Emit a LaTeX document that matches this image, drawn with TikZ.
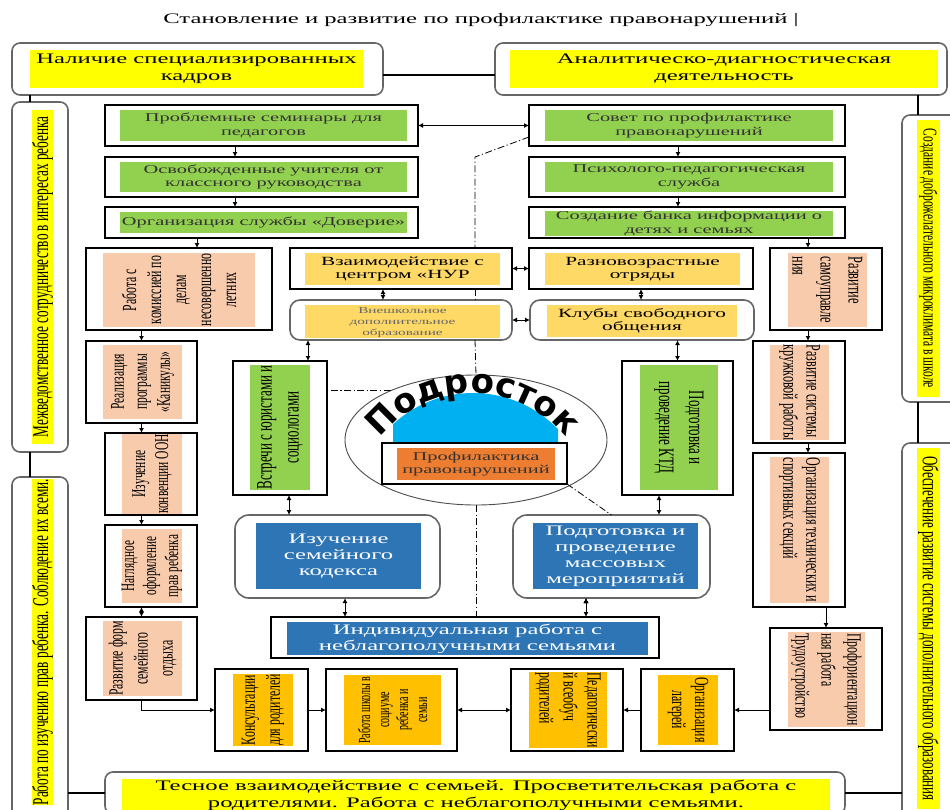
\documentclass[tikz,border=0pt]{standalone}
\usepackage{fontspec}
\setmainfont{Liberation Serif}[FakeStretch=1.7]
\newfontfamily\rotfont{Liberation Serif}[FakeStretch=0.59]
\newfontfamily\podfont{DejaVu Sans}
\usetikzlibrary{shapes.geometric,arrows.meta,decorations.text}

\definecolor{cYel}{HTML}{FFFF00}
\definecolor{cGrn}{HTML}{92D050}
\definecolor{cSand}{HTML}{FFD966}
\definecolor{cPeach}{HTML}{F8CBAD}
\definecolor{cAmber}{HTML}{FFC000}
\definecolor{cRust}{HTML}{ED7D31}
\definecolor{cBlue}{HTML}{2E75B6}
\definecolor{cSky}{HTML}{00B0F0}

\begin{document}
\begin{tikzpicture}
		[x=1pt, y=-1pt,
		bx/.style ={rectangle, draw=black, line width=1.1pt, fill=white, inner sep=0pt, outer sep=0pt},
		rbx/.style ={bx, draw=black!60, line width=1.6pt, rounded corners=8pt},
		pad/.style ={rectangle, inner sep=0pt, outer sep=0pt, align=center},
		hdr/.style ={pad, fill=cYel, font=\fontsize{14.5}{17}\selectfont},
		grn/.style ={pad, fill=cGrn, text=black!80, font=\fontsize{12}{13.5}\selectfont},
		snd/.style ={pad, fill=cSand, font=\fontsize{12.5}{13.5}\selectfont},
		blu/.style ={pad, fill=cBlue, text=white, font=\fontsize{14.5}{16}\selectfont},
		vtx/.style ={pad, font=\rotfont\fontsize{20}{25}\selectfont},
		vup/.style ={vtx, rotate=90},
		vdn/.style ={vtx, rotate=-90},
		arr/.style ={draw, line width=1pt, -{Latex[length=5pt,width=5pt]}},
		darr/.style ={draw, line width=1pt, {Latex[length=5pt,width=5pt]}-{Latex[length=5pt,width=5pt]}},
		dd/.style ={draw, line width=0.8pt, dash pattern=on 7pt off 2.5pt on 1.2pt off 2.5pt},
		]
		\useasboundingbox (0,0) rectangle (950,809);
		\clip (0,0) rectangle (950,809);

		% title and headers
		\draw (481,20) node[font=\fontsize{14.5}{17}\selectfont] (ttl) {Становление и развитие по профилактике правонарушений |};
		\draw (197.5,69) node[rbx, minimum width=371, minimum height=52] (hL) {};
		\draw (196.5,69) node[hdr, minimum width=333, minimum height=38] (hLT) {Наличие специализированных\\кадров};
		\draw (721,69) node[rbx, minimum width=452, minimum height=52] (hR) {};
		\draw (724,69) node[hdr, minimum width=428, minimum height=38] (hRT) {Аналитическо-диагностическая\\деятельность};

		% outer columns
		\draw (40,277) node[rbx, minimum width=56, minimum height=350] (oL1) {};
		\draw (42.5,277) node[vup, fill=cYel, minimum width=334, minimum height=21, font=\rotfont\fontsize{22.5}{24}\selectfont] (oL1T) {Межведомственное сотрудничество в интересах ребенка};
		\draw (40,658.5) node[rbx, minimum width=56, minimum height=363] (oL2) {};
		\draw (42.5,642) node[vup, fill=cYel, minimum width=316, minimum height=21, font=\rotfont\fontsize{22.5}{24}\selectfont] (oL2T) {Работа по изучению прав ребенка. Соблюдение их всеми.};
		\draw (930,258.5) node[rbx, minimum width=56, minimum height=287] (oR1) {};
		\draw (928.5,258.5) node[vdn, fill=cYel, minimum width=277, minimum height=23, font=\rotfont\fontsize{19.5}{24}\selectfont] (oR1T) {Создание доброжелательного микроклимата в школе};
		\draw (930,641.5) node[rbx, minimum width=56, minimum height=397] (oR2) {};
		\draw (928.5,628.5) node[vdn, fill=cYel, minimum width=361, minimum height=23, font=\rotfont\fontsize{22}{24}\selectfont] (oR2T) {Обеспечение развитие системы дополнительного образования};
		\draw (475,793) node[rbx, minimum width=740, minimum height=42] (bot) {};
		\draw (476,795.5) node[hdr, minimum width=708, minimum height=33] (botT) {Тесное взаимодействие с семьей. Просветительская работа с\\родителями. Работа с неблагополучными семьями.};

		% green blocks
		\draw (261.5,125.5) node[bx, minimum width=313, minimum height=41] (sem) {};
		\draw (263.5,125.5) node[grn, minimum width=287, minimum height=31] (semT) {Проблемные семинары для\\педагогов};
		\draw (261.5,177) node[bx, minimum width=313, minimum height=40] (osv) {};
		\draw (263.5,177) node[grn, minimum width=287, minimum height=30] (osvT) {Освобожденные учителя от\\классного руководства};
		\draw (261.5,222.5) node[bx, minimum width=313, minimum height=31] (dov) {};
		\draw (263.5,222.5) node[grn, minimum width=287, minimum height=21] (dovT) {Организация службы «Доверие»};
		\draw (687,125.5) node[bx, minimum width=316, minimum height=41] (sov) {};
		\draw (689,125.5) node[grn, minimum width=288, minimum height=31] (sovT) {Совет по профилактике\\правонарушений};
		\draw (687,177) node[bx, minimum width=316, minimum height=40] (psi) {};
		\draw (689,177) node[grn, minimum width=288, minimum height=30] (psiT) {Психолого-педагогическая\\служба};
		\draw (687,222.5) node[bx, minimum width=316, minimum height=31] (bank) {};
		\begin{scope}
		\clip (529,207) rectangle (845,237);
		\draw (689,223.5) node[grn, minimum width=288, minimum height=21] (bankT) {Создание банка информации о\\детях и семьях};
		\end{scope}

		% middle blocks
		\draw (401,268.5) node[bx, minimum width=222, minimum height=41] (vz) {};
		\draw (402.5,269) node[snd, minimum width=195, minimum height=32] (vzT) {Взаимодействие с\\центром «НУР};
		\draw (641,268.5) node[bx, minimum width=224, minimum height=41] (raz) {};
		\draw (642.5,269) node[snd, minimum width=195, minimum height=32] (razT) {Разновозрастные\\отряды};
		\draw (401,320) node[rbx, rounded corners=10pt, minimum width=222, minimum height=40] (vn) {};
		\begin{scope}
		\clip (305,305) rectangle (500,337);
		\draw (402.5,323) node[snd, text=black!60, font=\fontsize{9}{11}\selectfont, minimum width=195, minimum height=36] (vnT) {Внешкольное\\дополнительное\\образование};
		\end{scope}
		\draw (642,320) node[rbx, rounded corners=10pt, minimum width=224, minimum height=40] (klub) {};
		\draw (642,321) node[snd, minimum width=190, minimum height=32] (klubT) {Клубы свободного\\общения};
		\draw (280,428) node[bx, minimum width=94, minimum height=134] (vst) {};
		\draw (280,427.5) node[vup, fill=cGrn, minimum width=125, minimum height=60, font=\rotfont\fontsize{22}{27}\selectfont] (vstT) {Встречи с юристами и\\социологами};
		\draw (677.5,428) node[bx, minimum width=111, minimum height=134] (ktd) {};
		\draw (679,427.5) node[vdn, fill=cGrn, minimum width=125, minimum height=78, font=\rotfont\fontsize{22}{30}\selectfont] (ktdT) {Подготовка и\\проведение КТД};

		% centre
		\draw (476,440) node[ellipse, draw=black!70, line width=0.9pt, fill=white, inner sep=0pt, outer sep=0pt, minimum width=262, minimum height=130] (circ) {};
		\begin{scope}
		\clip (393,388) rectangle (558,450);
		\fill[cSky] (473,511) circle (118);
		\end{scope}
		\path[decorate, decoration={text along path, text align=center, text={|\podfont\bfseries\fontsize{34}{34}\selectfont|Подросток}}] (473,511) ++(-155:118) arc[start angle=-155, end angle=-25, radius=118];
		\draw (474.5,463.5) node[bx, minimum width=185, minimum height=41] (prof) {};
		\draw (476,464) node[pad, fill=cRust, text=black!80, font=\fontsize{12}{13.5}\selectfont, minimum width=158, minimum height=32] (profT) {Профилактика\\правонарушений};

		% blue blocks
		\draw (337.5,556.5) node[rbx, rounded corners=14pt, minimum width=205, minimum height=83] (izu) {};
		\draw (338.5,556) node[blu, minimum width=165, minimum height=66] (izuT) {Изучение\\семейного\\кодекса};
		\draw (611.5,556.5) node[rbx, rounded corners=14pt, minimum width=197, minimum height=83] (mas) {};
		\draw (615.5,556) node[blu, minimum width=165, minimum height=66] (masT) {Подготовка и\\проведение\\массовых\\мероприятий};
		\draw (465,637.5) node[bx, minimum width=388, minimum height=41] (ind) {};
		\draw (467.5,638.5) node[blu, minimum width=361, minimum height=33] (indT) {Индивидуальная работа с\\неблагополучными семьями};

		% left column
		\draw (179,289) node[bx, minimum width=186, minimum height=82] (kom) {};
		\draw (179,290) node[vup, fill=cPeach, minimum width=74, minimum height=152] (komT) {Работа с\\комиссией по\\делам\\несовершенно\\летних};
		\draw (141.5,382) node[bx, minimum width=111, minimum height=82] (kan) {};
		\draw (142.5,382) node[vup, fill=cPeach, minimum width=74, minimum height=79, font=\rotfont\fontsize{19.5}{23}\selectfont] (kanT) {Реализация\\программы\\«Каникулы»};
		\draw (151,474) node[bx, minimum width=92, minimum height=82] (oon) {};
		\draw (152,474) node[vup, fill=cPeach, minimum width=74, minimum height=60, font=\rotfont\fontsize{19.5}{23}\selectfont] (oonT) {Изучение\\конвенции ООН};
		\draw (151,566) node[bx, minimum width=92, minimum height=82] (nag) {};
		\draw (152,566) node[vup, fill=cPeach, minimum width=74, minimum height=60, font=\rotfont\fontsize{19}{22}\selectfont] (nagT) {Наглядное\\оформление\\прав ребенка};
		\draw (141.5,658.5) node[bx, minimum width=111, minimum height=83] (otd) {};
		\draw (142.5,658.5) node[vup, fill=cPeach, minimum width=75, minimum height=79] (otdT) {Развитие форм\\семейного\\отдыха};

		% bottom row
		\draw (261.5,710) node[bx, minimum width=93, minimum height=82] (kons) {};
		\draw (263,710) node[vup, fill=cAmber, minimum width=70, minimum height=60] (konsT) {Консультации\\для родителей};
		\draw (391.5,710) node[bx, minimum width=131, minimum height=82] (shk) {};
		\draw (392.5,710) node[vup, fill=cAmber, minimum width=70, minimum height=97, font=\rotfont\fontsize{17}{19}\selectfont] (shkT) {Работа школы в\\социуме\\ребенка и\\семьи};
		\draw (567,710) node[bx, minimum width=112, minimum height=82] (ped) {};
		\draw (568,710) node[vdn, fill=cAmber, align=left, minimum width=70, minimum height=78, font=\rotfont\fontsize{20}{24}\selectfont] (pedT) {Педагогически\\й всеобуч\\родителей};
		\draw (687.5,710) node[bx, minimum width=93, minimum height=82] (lag) {};
		\draw (688,710) node[vdn, fill=cAmber, minimum width=70, minimum height=60, font=\rotfont\fontsize{20}{23}\selectfont] (lagT) {Организация\\лагерей};

		% right column
		\draw (826,289) node[bx, minimum width=112, minimum height=82] (sam) {};
		\draw (827.5,290) node[vdn, fill=cPeach, align=left, minimum width=74, minimum height=79, font=\rotfont\fontsize{21}{28}\selectfont] (samT) {Развитие\\самоуправле\\ния};
		\draw (799,392) node[bx, minimum width=92, minimum height=102] (kru) {};
		\draw (799.5,392.5) node[vdn, fill=cPeach, align=left, minimum width=95, minimum height=59, font=\rotfont\fontsize{20.5}{23}\selectfont] (kruT) {Развитие системы\\кружковой работы};
		\draw (799,530) node[bx, minimum width=92, minimum height=154] (sek) {};
		\draw (799.5,530) node[vdn, fill=cPeach, align=left, minimum width=146, minimum height=59, font=\rotfont\fontsize{20.5}{23}\selectfont] (sekT) {Организация технических и\\спортивных секций};
		\draw (826,679) node[bx, minimum width=112, minimum height=102] (prf) {};
		\draw (826.5,679.5) node[vdn, fill=cPeach, align=left, minimum width=95, minimum height=77, font=\rotfont\fontsize{20}{26}\selectfont] (prfT) {Профориентацион\\ная работа\\Трудоустройство};

		% plain links between the frame blocks
		\path[draw, line width=1.1pt]
		([yshift=-6pt]hL.east) edge ([yshift=-6pt]hR.west)
		([xshift=18pt]hL.south west) edge ([xshift=18pt]oL1.north west)
		([xshift=18pt]oL1.south west) edge ([xshift=18pt]oL2.north west)
		(bot.west) edge (bot.west -| oL2.east)
		([xshift=16pt]oR1.north west) edge ([xshift=-29pt]hR.south east)
		([xshift=16pt]oR1.south west) edge ([xshift=16pt]oR2.north west)
		(bot.east) edge (bot.east -| oR2.west);

		% arrows
		\path[arr]
		([xshift=130pt]sem.south west) edge ([xshift=130pt]osv.north west)
		([xshift=130pt]osv.south west) edge ([xshift=130pt]dov.north west)
		(dov.south -| kan.east) edge (kom.north -| kan.east)
		([xshift=-9pt]sov.south) edge ([xshift=-9pt]psi.north)
		([xshift=-9pt]psi.south) edge ([xshift=-9pt]bank.north)
		([xshift=-37pt]bank.south east) edge ([xshift=-18pt]sam.north)
		([xshift=-18pt]sam.south) edge ([xshift=9pt]kru.north)
		([xshift=9pt]kru.south) edge ([xshift=9pt]sek.north)
		(sek.south -| prf.north) edge (prf.north)
		(lag.east -| prf.west) edge (lag.east)
		(lag.west) edge (ped.east)
		(kons.east) edge (shk.west)
		(kom.south -| kan.north) edge (kan.north)
		(kan.south) edge (kan.south |- oon.north)
		(oon.south -| kan.south) edge (nag.north -| kan.south)
		(nag.south -| otd.north) edge (otd.north);
		\draw[arr] (otd.south) |- (kons.west);

		\path[darr]
		(sem.east) edge (sov.west)
		(shk.east) edge (ped.west)
		(vz.east) edge (raz.west)
		([xshift=-18pt]vz.south) edge ([xshift=-18pt]vn.north)
		(vn.east) edge (klub.west)
		(raz.south) edge (raz.south |- klub.north)
		([xshift=-93pt]vn.south) edge ([xshift=28pt]vst.north)
		(klub.south -| ktd.north) edge (ktd.north)
		([xshift=9pt]vst.south) edge ([xshift=-48.5pt]izu.north)
		([xshift=-18.5pt]ktd.south) edge ([xshift=47.5pt]mas.north)
		([xshift=7.5pt]izu.south) edge ([xshift=-120pt]ind.north)
		([xshift=-25.5pt]mas.south) edge ([xshift=121pt]ind.north);

		% dash-dot guide
		\draw[dd] ([yshift=-11.5pt]sov.west) -- ++(-54,20) -- ([xshift=-37pt]vz.north east);
		\path[dd]
		([xshift=-37pt]vz.south east) edge ([xshift=-37pt]vn.north east)
		([xshift=-37pt]vn.south east) edge (circ.north)
		(circ.south) edge (circ.south |- ind.north)
		(circ.150) edge (circ.150 -| vst.east)
		(prof.south east) edge (mas.north);
\end{tikzpicture}
\end{document}
